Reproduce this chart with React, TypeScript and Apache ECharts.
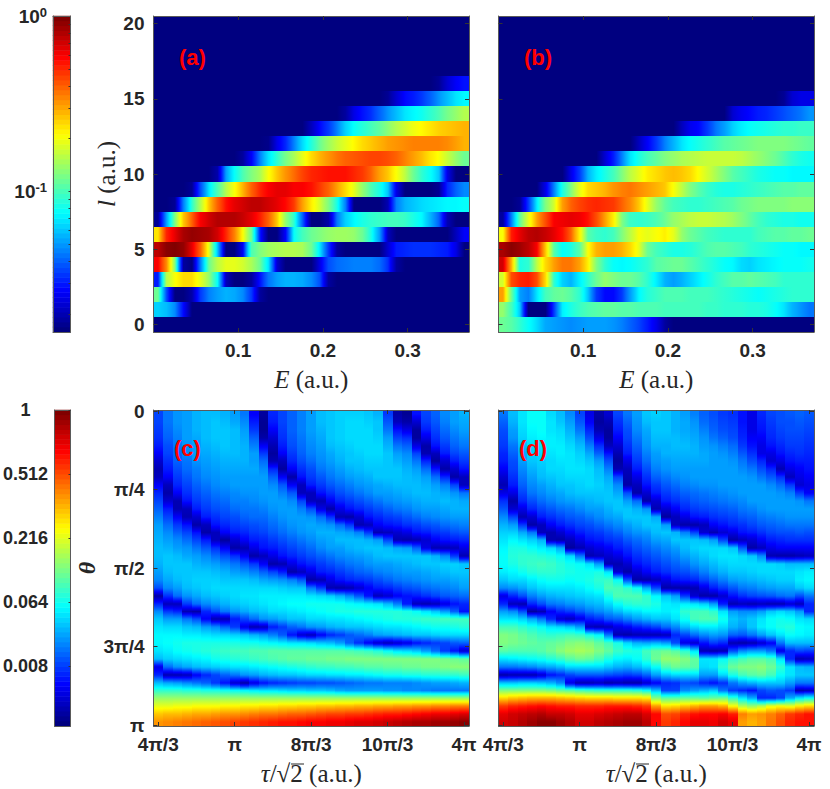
import React, { useEffect, useRef } from "react";
import * as echarts from "echarts";

// All cell values are positions on the colour bar, 0 (bottom) to 100 (top).
const jetColors = ["#000080", "#0000ff", "#0080ff", "#00ffff", "#80ff80", "#ffff00", "#ff8000", "#ff0000", "#800000"];
const energyColumnCount = 37;
const angularCount = 21;

// Each row: [first non-empty E column, values...]; index = l, missing rows are empty.
const rowsA: [number, number[]][] = [
  [0, []],
  [0, [33, 31, 26, 13]],
  [0, [48, 20, 0, 0, 4, 18, 25, 28, 30, 29, 26, 18, 3]],
  [0, [15, 55, 62, 66, 66, 60, 52, 38, 6, 0, 0, 3, 14, 24, 28, 30, 30, 29, 26, 20, 3]],
  [0, [88, 74, 50, 3, 0, 25, 48, 56, 60, 60, 58, 54, 48, 35, 8, 0, 0, 0, 0, 10, 20, 23, 24, 25, 25, 25, 23, 17, 3]],
  [0, [94, 99, 100, 98, 90, 78, 60, 32, 0, 0, 12, 45, 50, 53, 54, 55, 55, 54, 48, 35, 18, 3, 0, 0, 0, 0, 0, 8, 15, 16, 17, 17, 17, 16, 15, 10, 0]],
  [0, [65, 84, 90, 96, 98, 97, 96, 92, 84, 75, 62, 48, 15, 0, 0, 12, 38, 44, 48, 50, 52, 53, 53, 52, 48, 40, 28, 6, 0, 0, 0, 0, 0, 0, 0, 6, 12]],
  [0, [2, 28, 50, 68, 78, 88, 92, 95, 95, 95, 93, 90, 85, 78, 68, 52, 42, 22, 0, 0, 4, 24, 33, 37, 40, 42, 43, 44, 44, 43, 40, 37, 30, 22, 5, 0, 0]],
  [2, [2, 25, 42, 55, 68, 78, 86, 90, 92, 94, 94, 92, 90, 87, 82, 72, 64, 58, 50, 40, 25, 0, 0, 0, 0, 5, 25, 30, 32, 34, 35, 36, 37, 37, 38]],
  [4, [2, 20, 35, 45, 55, 62, 70, 78, 84, 88, 90, 90, 88, 88, 86, 82, 78, 72, 66, 60, 52, 45, 40, 32, 10, 0, 0, 0, 0, 2, 16, 22, 26]],
  [7, [4, 28, 38, 45, 50, 54, 62, 68, 73, 77, 81, 84, 85, 86, 86, 86, 84, 82, 78, 72, 68, 62, 56, 48, 42, 38, 32, 10, 0, 0]],
  [10, [3, 12, 25, 35, 42, 49, 54, 60, 66, 70, 73, 76, 78, 79, 80, 81, 81, 80, 78, 75, 72, 69, 65, 62, 57, 52, 48]],
  [13, [1, 10, 16, 25, 34, 41, 48, 53, 57, 60, 63, 66, 68, 70, 72, 73, 74, 75, 75, 75, 75, 74, 72, 70]],
  [18, [6, 13, 18, 25, 33, 38, 41, 44, 47, 51, 55, 58, 61, 63, 65, 67, 68, 69, 70]],
  [22, [3, 10, 14, 17, 22, 27, 31, 35, 37, 39, 42, 45, 49, 52, 55]],
  [27, [2, 8, 13, 15, 18, 22, 27, 31, 35, 37]],
  [33, [2, 8, 12, 14]],
];

const rowsB: [number, number[]][] = [
  [0, [48, 46, 42, 38, 34, 29, 28, 27, 26, 27, 28, 28, 28, 27, 25, 22, 19, 15, 10, 3]],
  [0, [52, 44, 32, 0, 0, 0, 18, 36, 40, 43, 45, 46, 47, 47, 46, 46, 45, 45, 45, 44, 44, 44, 44, 44, 43, 43, 42, 42, 42, 41, 41, 40, 38, 35, 30, 27, 24]],
  [0, [72, 48, 28, 25, 35, 44, 47, 48, 46, 42, 32, 18, 13, 13, 18, 28, 37, 41, 43, 45, 45, 45, 44, 44, 44, 43, 42, 41, 40, 39, 38, 39, 40, 41, 42, 42, 42]],
  [0, [58, 80, 84, 85, 80, 66, 42, 33, 30, 36, 42, 48, 52, 50, 48, 48, 46, 42, 36, 30, 28, 30, 33, 36, 39, 42, 44, 46, 46, 47, 46, 45, 44, 42, 42, 42, 42]],
  [0, [92, 70, 40, 42, 56, 66, 72, 76, 76, 72, 64, 50, 42, 38, 37, 38, 40, 42, 46, 47, 48, 48, 46, 44, 42, 40, 38, 37, 34, 33, 35, 36, 37, 38, 38, 38, 39]],
  [0, [96, 99, 97, 94, 88, 68, 46, 38, 40, 46, 62, 70, 72, 72, 70, 66, 60, 48, 44, 42, 40, 40, 41, 43, 45, 46, 46, 45, 44, 42, 41, 40, 39, 38, 38, 37, 37]],
  [0, [62, 85, 90, 94, 95, 93, 90, 86, 78, 64, 46, 43, 42, 44, 50, 56, 62, 60, 62, 64, 60, 52, 48, 46, 44, 43, 42, 42, 42, 42, 44, 45, 46, 46, 47, 47, 48]],
  [0, [3, 25, 47, 60, 72, 80, 88, 89, 90, 89, 86, 80, 72, 64, 50, 43, 42, 43, 45, 48, 52, 54, 56, 57, 57, 56, 55, 53, 50, 47, 44, 42, 41, 40, 40, 39, 39]],
  [2, [2, 18, 36, 50, 58, 72, 78, 81, 83, 84, 83, 82, 78, 74, 68, 60, 52, 47, 44, 43, 42, 42, 43, 44, 45, 46, 48, 49, 50, 50, 50, 50, 51, 51, 51]],
  [5, [10, 25, 40, 50, 60, 66, 68, 70, 73, 75, 76, 74, 72, 70, 68, 62, 56, 50, 46, 43, 41, 40, 40, 41, 42, 43, 44, 45, 46, 46, 47, 47]],
  [8, [10, 18, 30, 36, 40, 44, 50, 56, 60, 64, 66, 68, 69, 68, 66, 62, 58, 54, 50, 46, 44, 42, 40, 39, 38, 38, 37, 37, 37]],
  [12, [8, 15, 25, 35, 40, 44, 47, 50, 52, 54, 55, 56, 57, 57, 57, 57, 56, 54, 52, 50, 48, 45, 42, 40, 39]],
  [16, [6, 12, 18, 25, 30, 35, 38, 40, 42, 44, 46, 47, 48, 49, 50, 50, 50, 50, 49, 48, 47]],
  [21, [6, 11, 13, 18, 24, 28, 33, 36, 38, 39, 40, 41, 42, 42, 43, 43]],
  [27, [8, 11, 13, 15, 16, 18, 20, 22, 24, 27]],
  [33, [2, 8, 10, 10]],
];

// Each list: one tau column, from theta = 0 (top) down to theta = pi.
const columnsC: number[][] = [
  [19,19,18,17,15,12,8,5,6,12,16,19,22,25,28,29,30,31,31,30,28,26,20,4,16,26,32,35,37,37,35,31,10,16,31,42,52,60,68,73],
  [24,24,23,22,20,19,17,15,12,6,4,8,15,19,23,26,28,30,32,32,31,29,26,17,6,18,28,34,37,38,36,33,23,5,29,42,52,60,69,74],
  [27,27,26,25,24,23,22,20,18,16,12,5,5,12,18,22,26,28,31,32,32,31,28,23,6,16,28,34,37,39,38,34,27,5,28,42,52,61,69,75],
  [28,28,28,28,27,26,24,23,21,19,17,14,6,5,14,19,23,27,29,32,32,32,31,27,18,5,24,32,36,40,39,35,29,6,26,41,52,61,70,76],
  [30,30,30,29,28,28,27,25,24,22,20,18,15,8,4,14,19,24,28,30,32,33,32,29,23,4,20,31,36,40,40,36,31,12,24,41,52,62,71,77],
  [31,31,31,31,30,29,28,27,26,24,22,20,18,15,6,4,15,21,26,29,32,33,33,31,26,16,12,28,35,40,41,37,32,16,22,40,52,62,71,78],
  [31,32,32,32,31,30,29,28,27,26,24,22,20,17,14,6,6,17,23,28,31,33,34,32,28,20,5,26,34,40,42,39,33,19,18,40,52,62,72,79],
  [30,31,32,32,32,31,30,29,28,27,25,23,21,19,16,12,3,12,20,26,30,32,34,33,30,24,5,22,34,40,43,40,34,22,14,39,52,63,73,80],
  [28,29,31,31,31,31,30,29,28,28,26,25,23,20,18,15,8,4,17,24,28,32,34,34,32,27,15,18,33,40,44,41,35,24,8,38,52,63,73,81],
  [24,26,28,29,30,30,30,29,28,28,27,25,24,22,19,16,12,5,12,21,27,32,34,35,33,29,19,10,32,39,44,42,35,27,4,37,52,64,74,82],
  [12,15,18,22,25,28,28,29,28,28,27,26,24,23,20,18,15,10,4,18,25,31,34,35,34,31,23,5,30,39,45,43,36,28,10,36,52,64,75,83],
  [3,2,2,4,12,18,23,26,28,28,28,27,25,23,21,19,16,14,6,12,22,29,34,36,35,32,27,6,28,38,45,44,37,30,14,35,52,65,76,84],
  [16,15,12,8,5,3,5,16,22,26,28,28,27,25,23,21,18,15,10,4,19,28,34,36,36,34,28,15,25,37,46,45,38,31,16,35,52,65,76,85],
  [19,19,18,17,15,12,6,3,12,21,25,28,28,27,25,23,20,17,14,5,15,27,33,36,37,34,30,18,21,36,46,46,39,32,17,34,52,66,77,86],
  [22,22,22,21,20,18,16,12,4,12,21,26,28,28,27,25,22,19,16,10,4,25,32,36,38,35,32,22,14,35,46,47,40,32,18,33,52,66,78,86],
  [25,25,25,24,23,22,20,17,14,6,6,19,25,28,28,27,24,21,18,14,6,21,32,36,38,36,32,24,8,35,46,47,41,33,19,33,52,67,78,87],
  [28,28,28,27,26,25,23,20,18,15,6,6,20,27,29,28,26,23,20,16,10,4,24,35,39,37,34,27,6,34,46,48,42,34,19,32,52,67,79,88],
  [31,31,30,29,28,27,26,24,21,18,14,5,10,23,28,30,28,26,22,18,15,5,18,34,39,38,34,28,12,32,46,48,43,34,20,32,52,68,80,88],
  [32,32,32,32,31,29,28,26,24,21,17,12,4,17,27,30,29,28,24,20,16,10,5,33,39,39,35,30,16,31,46,49,43,35,20,31,52,68,81,89],
  [33,33,33,33,32,31,30,28,26,23,20,16,10,5,23,29,31,28,26,22,18,14,4,30,39,40,35,31,18,28,46,49,44,35,21,29,52,69,81,89],
  [33,34,34,34,33,32,32,30,28,25,22,18,14,4,18,28,31,30,27,24,20,16,5,26,38,40,36,32,21,22,45,50,44,36,22,28,52,69,82,90],
  [33,34,34,34,34,33,32,31,29,27,24,20,16,8,5,25,31,31,28,25,22,17,8,21,37,41,37,32,23,17,44,50,45,36,23,28,52,70,82,91],
  [32,33,34,34,34,34,33,32,30,28,26,22,18,14,6,18,30,32,29,27,23,18,12,14,36,41,38,33,25,12,43,50,46,37,24,28,52,70,83,91],
  [30,32,32,33,34,34,33,32,32,29,28,24,20,16,12,5,28,32,31,28,25,20,15,6,35,41,39,34,28,8,41,50,46,38,24,28,52,71,84,92],
  [18,21,24,28,30,32,32,32,32,30,28,26,22,18,14,6,19,31,32,28,26,22,16,8,31,41,40,35,29,6,38,50,47,39,25,27,52,71,85,93],
  [4,6,14,19,24,28,30,32,32,31,29,27,24,19,15,8,5,29,32,29,27,24,18,12,25,41,41,35,30,8,35,50,47,39,25,27,52,72,85,94],
  [2,4,10,17,22,26,28,30,31,31,30,28,25,21,17,10,4,28,32,30,28,25,20,14,15,40,41,36,31,10,34,50,48,40,25,26,52,72,86,95],
  [14,8,3,3,10,19,24,28,30,31,31,29,27,23,18,14,5,22,32,31,28,26,21,15,6,38,42,37,32,14,32,50,48,40,26,26,52,73,87,96],
  [19,18,15,10,4,5,16,23,28,30,31,30,28,25,20,15,8,10,32,32,29,27,23,17,5,35,43,38,32,16,28,50,49,41,27,25,52,73,88,96],
  [22,21,19,17,14,6,3,14,23,28,30,30,28,26,21,17,12,5,30,32,30,28,24,19,6,32,43,39,33,18,23,50,49,41,28,24,52,74,89,97],
  [26,25,23,21,18,15,8,4,16,25,29,31,29,27,23,18,14,5,26,33,31,28,25,21,10,28,44,39,34,19,18,49,50,42,28,24,52,74,89,97],
  [28,28,26,24,22,19,15,8,4,19,27,30,30,28,24,20,15,6,18,33,32,29,26,22,14,22,44,40,34,21,14,48,51,42,29,24,52,75,90,98],
  [30,29,28,26,24,21,18,14,6,6,24,29,30,28,25,21,16,10,5,32,32,30,28,23,16,14,44,41,34,22,8,47,51,43,30,24,52,75,91,99],
];

const columnsD: number[][] = [
  [24,22,20,19,18,16,15,12,8,5,10,17,21,26,30,33,35,37,38,38,36,32,26,10,16,28,35,44,50,50,46,35,24,4,32,50,66,82,90,92],
  [31,30,28,27,24,22,20,19,17,15,10,4,8,19,28,33,37,40,41,40,37,34,27,16,6,26,35,44,49,49,45,36,24,5,32,50,68,84,92,93],
  [35,35,34,33,31,29,28,26,24,22,19,16,10,5,18,29,35,40,42,42,39,34,29,20,5,20,33,42,47,48,45,37,25,5,33,50,69,85,93,95],
  [38,38,37,36,34,33,32,30,28,26,24,20,16,8,4,24,33,38,42,43,41,36,32,25,16,3,29,40,45,47,45,38,26,5,33,50,70,86,94,97],
  [38,38,38,37,35,34,33,32,31,28,26,23,19,15,6,6,30,36,41,44,42,38,34,28,20,5,24,38,43,46,46,39,28,8,32,50,70,87,95,99],
  [34,35,35,36,36,35,34,34,32,30,28,25,21,17,12,5,5,34,40,43,42,39,35,30,24,12,16,35,42,47,48,41,29,14,30,49,70,86,93,99],
  [31,32,34,35,36,36,35,34,33,32,29,27,23,19,15,8,4,29,38,41,41,39,35,31,25,16,8,34,43,48,51,43,31,16,26,47,69,85,93,97],
  [26,28,30,32,34,35,35,35,34,32,31,28,24,21,17,12,6,3,34,39,40,38,35,32,27,18,6,32,44,50,53,46,34,19,10,46,68,85,92,95],
  [19,21,24,28,31,33,34,35,34,33,32,29,26,22,19,15,10,5,24,38,39,39,36,33,28,21,10,28,43,51,54,48,34,21,5,44,67,84,90,92],
  [10,12,16,20,25,29,32,34,34,34,32,30,28,24,20,17,14,8,5,35,39,40,38,34,30,24,15,6,40,50,53,47,34,21,5,43,66,84,90,92],
  [4,3,5,10,17,22,28,31,32,33,32,31,28,26,22,18,15,10,6,28,40,42,40,35,31,26,17,5,37,47,50,44,34,21,6,42,66,84,91,94],
  [8,5,3,3,6,14,20,25,29,31,32,32,30,28,24,20,17,12,8,5,35,43,45,40,34,28,21,6,24,44,47,40,32,20,4,42,66,85,92,95],
  [19,17,15,12,8,5,3,5,19,26,29,32,32,29,26,22,18,15,10,5,8,38,44,45,38,31,22,10,5,40,43,37,30,19,5,42,65,85,93,96],
  [24,22,20,19,17,15,10,6,5,4,20,28,32,32,28,25,21,17,14,8,4,20,42,45,41,34,25,12,4,34,41,36,29,18,4,42,65,85,94,97],
  [28,27,26,24,22,20,18,15,10,6,4,23,30,32,30,27,23,20,17,14,8,4,38,45,42,35,28,15,5,30,40,38,31,19,4,41,65,84,94,97],
  [32,31,29,28,27,25,23,20,17,14,8,4,27,32,32,28,25,22,19,16,12,4,29,42,42,37,30,17,5,29,44,42,34,22,8,38,64,82,91,94],
  [33,32,32,31,30,28,27,25,22,18,15,8,5,29,32,31,28,24,21,18,15,6,19,37,40,37,32,19,5,30,47,48,38,28,12,31,50,72,87,87],
  [32,32,32,31,30,30,28,27,24,21,18,15,8,3,28,32,29,26,23,20,17,10,4,32,36,36,32,23,6,28,48,52,45,32,16,19,46,65,80,82],
  [30,30,30,31,31,30,29,28,26,23,20,17,12,6,6,30,32,28,25,22,19,14,4,28,35,37,35,26,16,20,46,52,48,34,17,19,46,66,81,84],
  [28,29,29,30,31,30,29,28,27,25,22,19,16,10,4,25,32,31,28,24,20,15,4,18,36,42,39,31,19,10,42,50,47,34,20,26,47,68,84,87],
  [25,27,28,29,30,30,29,28,28,26,23,21,18,14,4,19,32,33,30,27,22,16,5,8,35,44,44,34,23,8,35,47,46,34,19,28,47,70,86,90],
  [22,23,25,27,28,29,29,28,28,27,24,22,19,15,6,8,31,34,32,29,25,19,10,4,33,44,45,36,26,14,5,35,34,28,16,30,46,72,87,90],
  [20,21,22,24,27,28,28,28,28,27,25,23,20,17,12,5,28,34,34,31,28,22,15,4,28,42,45,36,28,18,4,35,35,28,14,32,47,72,87,89],
  [18,19,20,22,25,27,28,28,28,28,26,24,21,18,14,8,19,34,35,33,30,25,18,8,15,35,39,34,27,16,5,38,42,34,17,24,48,70,88,92],
  [17,18,19,20,23,25,27,28,28,28,27,25,22,19,16,10,4,32,35,34,32,28,21,14,5,28,32,30,22,5,20,42,48,40,24,18,42,62,85,90],
  [14,14,15,16,18,21,24,26,28,28,28,26,24,21,17,14,6,21,34,34,32,29,24,17,6,26,30,28,21,4,26,44,50,44,28,16,35,55,75,72],
  [10,10,10,12,14,17,20,24,27,28,28,28,25,22,19,15,8,4,32,34,33,30,25,19,5,26,32,32,24,5,28,46,50,46,30,14,29,52,72,70],
  [16,15,14,12,10,10,16,20,24,28,28,28,27,24,21,17,12,6,26,34,34,31,27,20,6,28,35,36,28,8,28,46,51,47,32,19,16,55,73,72],
  [19,18,17,16,14,10,8,16,21,26,28,28,28,25,22,19,15,10,5,34,34,32,28,21,5,32,38,38,32,12,24,44,48,44,32,21,16,60,75,76],
  [20,20,19,18,16,14,10,5,17,23,27,28,28,26,23,20,16,12,4,33,34,33,29,23,5,34,39,40,35,24,10,35,42,38,32,20,19,62,78,80],
  [21,20,20,19,18,16,14,10,6,18,25,28,28,27,24,20,17,12,4,31,34,33,29,24,8,32,38,41,38,31,16,16,35,35,28,18,29,60,82,84],
  [22,21,20,19,18,17,15,12,10,8,18,27,28,27,24,21,17,12,5,31,35,36,32,20,6,28,35,38,37,31,19,5,31,32,24,5,35,64,84,86],
  [21,20,19,18,17,16,15,14,12,10,12,24,28,27,24,20,17,12,6,31,36,37,34,24,16,16,34,37,36,31,18,6,30,32,24,6,38,66,86,86],
];

const energyTicks = [0.1, 0.2, 0.3];
const energyLabels = ["0.1", "0.2", "0.3"];
const angularTicks = [0, 5, 10, 15, 20];
const angularLabels = ["0", "5", "10", "15", "20"];
const tauTicks = [4 / 3, 2, 8 / 3, 10 / 3, 4];
const tauLabels = ["4π/3", "π", "8π/3", "10π/3", "4π"];
const thetaTicks = [0, Math.PI / 4, Math.PI / 2, (3 * Math.PI) / 4, Math.PI];
const thetaLabels = ["0", "π/4", "π/2", "3π/4", "π"];
const logBarLabelTicks = [-1, 0];
const logBarLabels = ["{b|10}{s|-1}", "{b|10}{s|0}"];
const logBarMinorValues = [0.9, 0.8, 0.7, 0.6, 0.5, 0.4, 0.3, 0.2, 0.1, 0.09, 0.08, 0.07, 0.06, 0.05, 0.04, 0.03, 0.02];
const powerBarValues = [1, 0.512, 0.216, 0.064, 0.008];
const powerBarLabels = ["1", "0.512", "0.216", "0.064", "0.008"];

const sans = "'Liberation Sans', Arial, sans-serif";
const serif = "'Liberation Serif', 'DejaVu Serif', serif";
const ink = "#262626";
const edge = "#5a5a5a";

const jetRgb = jetColors.map((h) => [1, 3, 5].map((i) => parseInt(h.slice(i, i + 2), 16)));
const jetAt = (p: number) => {
  const t = (Math.min(100, Math.max(0, p)) / 100) * 8;
  const i = Math.min(7, Math.floor(t));
  const f = t - i;
  const c = jetRgb[i].map((a, k) => Math.round(a + (jetRgb[i + 1][k] - a) * f));
  return `rgb(${c[0]},${c[1]},${c[2]})`;
};

// Colour of a cell blended towards its neighbours, like MATLAB's interpolated shading.
const cellFill = (prev: number, v: number, next: number, vertical: boolean) => {
  if (prev === v && next === v) return jetAt(v);
  const a = (prev + v) / 2, b = (v + next) / 2;
  const stops = [0, 1 / 6, 1 / 3, 1 / 2, 2 / 3, 5 / 6, 1].map((t) => ({
    offset: t,
    color: jetAt(t <= 0.5 ? a + (v - a) * t * 2 : v + (b - v) * (t - 0.5) * 2),
  }));
  return vertical
    ? new echarts.graphic.LinearGradient(0, 0, 0, 1, stops)
    : new echarts.graphic.LinearGradient(0, 0, 1, 0, stops);
};

const lookup = (ticks: number[], labels: string[]) => (v: number) => {
  const i = ticks.findIndex((t) => Math.abs(t - v) < 1e-6);
  return i < 0 ? "" : labels[i];
};

function valueAxis(extra: any, ticks: number[], labels: string[] | null, tickLength = 4) {
  return {
    type: "value",
    z: 10,
    scale: true,
    splitLine: { show: false },
    axisLine: { show: true, onZero: false, lineStyle: { color: edge, width: 1 } },
    axisTick: { show: true, inside: true, length: tickLength, customValues: ticks, lineStyle: { color: "#333", width: 1 } },
    axisLabel: labels
      ? { show: true, customValues: ticks, margin: 9, color: ink, fontFamily: sans, fontWeight: "bold", fontSize: 19, formatter: lookup(ticks, labels) }
      : { show: false },
    ...extra,
  };
}

function App() {
  const ref = useRef<HTMLDivElement>(null);
  useEffect(() => {
    const chart = echarts.init(ref.current!, undefined, { renderer: "svg" });
    const leftX = 153.5, rightX = 498.5, panelW = 315.5, panelH = 316, topY = 16, lowY = 410;
    const grids = [
      { left: leftX, top: topY, width: panelW, height: panelH },
      { left: rightX, top: topY, width: panelW, height: panelH },
      { left: leftX, top: lowY, width: panelW, height: panelH },
      { left: rightX, top: lowY, width: panelW, height: panelH },
      { left: 53, top: topY, width: 17.5, height: panelH },
      { left: 53, top: lowY, width: 17.5, height: panelH },
    ];
    const xAxes: any[] = [];
    const yAxes: any[] = [];
    const series: any[] = [];
    const hidden = (gridIndex: number, data: (string | number)[], inverse = false) => ({ type: "category", gridIndex, show: false, data, inverse });

    const titleStyle = {
      nameLocation: "middle",
      nameTextStyle: {
        color: ink,
        fontFamily: serif,
        fontSize: 25,
        rich: {
          i: { fontFamily: serif, fontStyle: "italic", fontSize: 25, color: ink },
          n: { fontFamily: serif, fontSize: 25, color: ink },
        },
      },
    };
    const addCells = (data: number[][], xi: number, yi: number, vertical: boolean) => {
      const table = new Map<string, number>();
      data.forEach(([c, r, v]) => table.set(`${c}:${r}`, v));
      series.push({
        type: "custom",
        coordinateSystem: "cartesian2d",
        xAxisIndex: xi,
        yAxisIndex: yi,
        data,
        encode: { x: 0, y: 1 },
        silent: true,
        progressive: 0,
        renderItem: (_: any, api: any) => {
          const c = api.value(0), r = api.value(1), v = api.value(2);
          const center = api.coord([c, r]);
          const size = api.size([1, 1]);
          const x0 = Math.round(center[0] - size[0] / 2), x1 = Math.round(center[0] + size[0] / 2);
          const y0 = Math.round(center[1] - size[1] / 2), y1 = Math.round(center[1] + size[1] / 2);
          const before = vertical ? `${c}:${r - 1}` : `${c - 1}:${r}`;
          const after = vertical ? `${c}:${r + 1}` : `${c + 1}:${r}`;
          return {
            type: "rect",
            shape: { x: x0, y: y0, width: x1 - x0, height: y1 - y0 },
            style: { fill: cellFill(table.get(before) ?? v, v, table.get(after) ?? v, vertical) },
          };
        },
      });
    };

    const energyCats = Array.from({ length: energyColumnCount }, (_, i) => i);
    const angularCats = Array.from({ length: angularCount }, (_, i) => i);
    const rowData = (rows: [number, number[]][]) => {
      const out: number[][] = [];
      for (let l = 0; l < angularCount; l++) {
        const [start, vals] = rows[l] ?? [0, []];
        for (let e = 0; e < energyColumnCount; e++) {
          const k = e - start;
          out.push([e, l, k >= 0 && k < vals.length ? vals[k] : 0]);
        }
      }
      return out;
    };
    const colData = (cols: number[][]) => {
      const out: number[][] = [];
      cols.forEach((c, i) => c.forEach((v, r) => out.push([i, r, v])));
      return out;
    };

    // panels a, b
    [rowsA, rowsB].forEach((rows, g) => {
      const xi = xAxes.length, yi = yAxes.length;
      xAxes.push(hidden(g, energyCats));
      yAxes.push(hidden(g, angularCats));
      const eRange = { gridIndex: g, min: 0, max: 0.3725 };
      const lRange = { gridIndex: g, min: -0.5, max: 20.5 };
      xAxes.push(valueAxis({ ...eRange, position: "bottom", name: "{i|E} (a.u.)", nameGap: 35, ...titleStyle }, energyTicks, energyLabels));
      xAxes.push(valueAxis({ ...eRange, position: "top" }, energyTicks, null));
      yAxes.push(valueAxis({ ...lRange, position: "left", ...(g === 0 ? { name: "{i|l} (a.u.)", nameGap: 35, ...titleStyle } : {}) }, angularTicks, g === 0 ? angularLabels : null));
      yAxes.push(valueAxis({ ...lRange, position: "right" }, angularTicks, null));
      addCells(rowData(rows), xi, yi, false);
    });

    // panels c, d
    [columnsC, columnsD].forEach((cols, n) => {
      const g = n + 2;
      const xi = xAxes.length, yi = yAxes.length;
      xAxes.push(hidden(g, cols.map((_, i) => i)));
      yAxes.push(hidden(g, cols[0].map((_, i) => i), true));
      const tRange = { gridIndex: g, min: 1.292, max: 4.0435 };
      const thRange = { gridIndex: g, min: -0.01, max: 3.15, inverse: true };
      xAxes.push(valueAxis({ ...tRange, position: "bottom", name: "{i|τ}/√{n|2} (a.u.)", nameGap: 35, ...titleStyle }, tauTicks, tauLabels));
      xAxes.push(valueAxis({ ...tRange, position: "top" }, tauTicks, null));
      yAxes.push(valueAxis({
        ...thRange,
        position: "left",
        ...(n === 0 ? { name: "θ", nameGap: 55, nameLocation: "middle", nameTextStyle: { color: ink, fontFamily: serif, fontStyle: "italic", fontWeight: "bold", fontSize: 24 } } : {}),
      }, thetaTicks, n === 0 ? thetaLabels : null));
      yAxes.push(valueAxis({ ...thRange, position: "right" }, thetaTicks, null));
      addCells(colData(cols), xi, yi, true);
    });

    // colour bars
    const levels = Array.from({ length: 64 }, (_, i) => i);
    const barSeriesIndex: number[] = [];
    [4, 5].forEach((g) => {
      const xi = xAxes.length, yi = yAxes.length;
      xAxes.push(hidden(g, ["bar"]));
      yAxes.push(hidden(g, levels));
      xAxes.push({ type: "value", gridIndex: g, min: 0, max: 1, position: "bottom", z: 10, splitLine: { show: false }, axisLine: { show: true, onZero: false, lineStyle: { color: edge } }, axisTick: { show: false }, axisLabel: { show: false } });
      xAxes.push({ type: "value", gridIndex: g, min: 0, max: 1, position: "top", z: 10, splitLine: { show: false }, axisLine: { show: true, onZero: false, lineStyle: { color: edge } }, axisTick: { show: false }, axisLabel: { show: false } });
      if (g === 4) {
        const range = { gridIndex: g, min: -1.8, max: 0 };
        yAxes.push(valueAxis({ ...range, position: "left", axisTick: { show: false } }, logBarLabelTicks, logBarLabels));
        yAxes[yAxes.length - 1].axisLabel.margin = 6;
        yAxes[yAxes.length - 1].axisLabel.rich = {
          b: { fontFamily: sans, fontWeight: "bold", fontSize: 19, color: ink },
          s: { fontFamily: sans, fontWeight: "bold", fontSize: 13, color: ink, verticalAlign: "top", padding: [0, 0, 8, 0] },
        };
        yAxes.push(valueAxis({ ...range, position: "right" }, logBarMinorValues.map((v) => Math.log10(v)), null, 2));
      } else {
        const range = { gridIndex: g, min: 0.013, max: 1 };
        const pos = powerBarValues.map((v) => Math.cbrt(v));
        yAxes.push(valueAxis({ ...range, position: "left", axisTick: { show: false } }, pos, powerBarLabels));
        const lab = yAxes[yAxes.length - 1].axisLabel;
        lab.margin = 29;
        lab.align = "center";
        lab.fontSize = 18;
        yAxes.push(valueAxis({ ...range, position: "right" }, pos, null, 2));
      }
      barSeriesIndex.push(series.length);
      series.push({
        type: "heatmap",
        coordinateSystem: "cartesian2d",
        xAxisIndex: xi,
        yAxisIndex: yi,
        data: levels.map((l) => [0, l, (l * 100) / 63]),
        progressive: 0,
        silent: true,
        emphasis: { disabled: true },
        itemStyle: { borderWidth: 0 },
      });
    });

    const letter = (text: string, x: number, y: number) => ({
      type: "text",
      x,
      y,
      z: 20,
      style: { text, fill: "#ff0000", fontFamily: sans, fontWeight: "bold", fontSize: 22, textVerticalAlign: "middle" },
    });
    const overline = (x: number) => ({
      type: "line",
      z: 20,
      shape: { x1: x, y1: 764, x2: x + 13, y2: 764 },
      style: { stroke: ink, lineWidth: 1 },
    });

    chart.setOption({
      animation: false,
      tooltip: { show: false },
      grid: grids,
      xAxis: xAxes,
      yAxis: yAxes,
      visualMap: {
        show: false,
        type: "continuous",
        min: 0,
        max: 100,
        dimension: 2,
        seriesIndex: barSeriesIndex,
        inRange: { color: jetColors },
      },
      series,
      graphic: [letter("(a)", 179, 57), letter("(b)", 524, 57), letter("(c)", 174, 448), letter("(d)", 519, 448), overline(291), overline(636)],
    });
    return () => chart.dispose();
  }, []);
  return <div ref={ref} style={{ position: "absolute", left: 0, top: 0, width: 830, height: 789 }} />;
}

export default App;
